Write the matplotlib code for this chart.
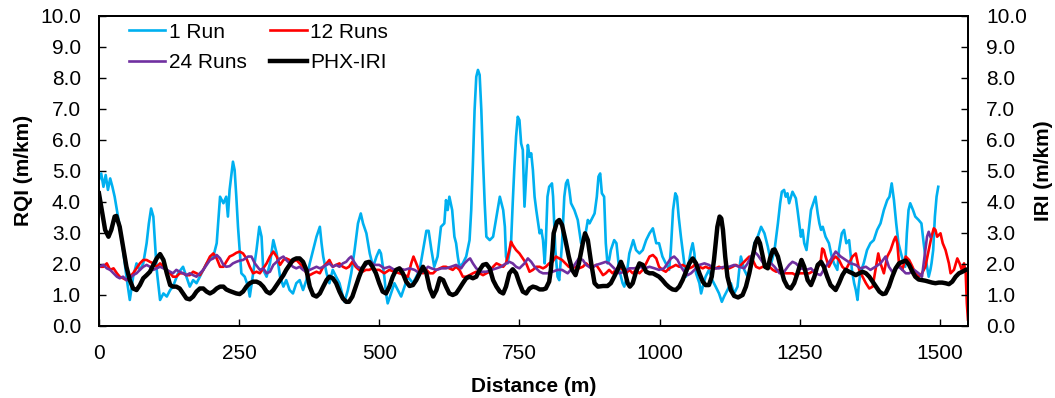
import matplotlib
matplotlib.use("Agg")
import matplotlib.pyplot as plt

plt.rcParams['font.family'] = ['Liberation Sans', 'DejaVu Sans']

# ---------------- data ----------------
run1_d = [0, 4, 8, 12, 16, 20, 24, 28, 32, 37, 43, 49, 55, 61, 67, 73, 79, 85, 89, 93,
          97, 100, 103, 109, 115, 121, 127, 132, 141, 150, 156, 162, 168, 174, 180, 186, 192, 198, 204, 210,
          216, 222, 227, 230, 233, 239, 242, 245, 248, 251, 254, 260, 266, 269, 275, 281, 286, 290, 293, 299,
          305, 311, 317, 323, 329, 334, 340, 346, 352, 358, 364, 370, 376, 382, 388, 394, 397, 400, 406, 411,
          417, 423, 429, 435, 438, 444, 450, 456, 462, 467, 471, 477, 483, 489, 495, 500, 503, 509, 512, 515,
          521, 527, 533, 539, 545, 551, 560, 566, 572, 578, 584, 588, 593, 598, 604, 610, 616, 619, 622, 625,
          630, 634, 637, 640, 643, 649, 655, 661, 664, 667, 670, 673, 676, 679, 682, 685, 688, 691, 697, 703,
          709, 715, 721, 724, 726, 729, 735, 738, 741, 744, 747, 750, 753, 756, 759, 762, 765, 768, 771, 774,
          777, 780, 786, 789, 792, 795, 797, 800, 803, 808, 810, 814, 818, 821, 826, 830, 833, 836, 839, 842,
          848, 854, 860, 866, 872, 875, 884, 888, 891, 894, 897, 901, 904, 907, 910, 913, 919, 923, 928, 934,
          937, 940, 946, 953, 958, 964, 970, 976, 982, 988, 994, 999, 1005, 1011, 1017, 1020, 1024, 1028, 1031, 1034,
          1038, 1041, 1044, 1047, 1052, 1056, 1059, 1062, 1065, 1071, 1074, 1077, 1082, 1088, 1094, 1100, 1106, 1111, 1115, 1121,
          1127, 1133, 1139, 1142, 1145, 1151, 1157, 1163, 1169, 1175, 1181, 1187, 1193, 1199, 1205, 1211, 1215, 1218, 1222, 1225,
          1228, 1231, 1237, 1243, 1246, 1249, 1252, 1255, 1258, 1262, 1266, 1270, 1274, 1278, 1282, 1285, 1288, 1291, 1296, 1302,
          1307, 1311, 1317, 1320, 1325, 1329, 1333, 1338, 1341, 1343, 1347, 1350, 1353, 1355, 1358, 1364, 1370, 1376, 1382, 1388,
          1394, 1400, 1406, 1410, 1414, 1418, 1422, 1426, 1432, 1438, 1441, 1444, 1447, 1452, 1456, 1462, 1467, 1471, 1474, 1477,
          1480, 1483, 1485, 1488, 1491, 1494, 1497]
run1_v = [4.70, 4.91, 4.48, 4.86, 4.38, 4.75, 4.48, 4.16, 3.73, 3.19, 2.44, 1.58, 0.83, 1.58, 2.01, 1.80, 2.01, 2.66, 3.30, 3.78,
          3.52, 2.66, 1.80, 0.83, 1.04, 0.94, 1.15, 1.26, 1.69, 1.90, 1.58, 1.26, 1.47, 1.37, 1.58, 1.80, 2.01, 2.12, 2.23, 2.66,
          4.16, 3.95, 4.16, 3.52, 4.38, 5.29, 5.02, 4.16, 3.19, 2.44, 1.69, 1.58, 1.26, 0.94, 1.69, 2.44, 3.19, 2.87, 1.80, 1.58,
          2.01, 2.76, 2.33, 1.58, 1.26, 1.47, 1.15, 1.04, 1.37, 1.47, 1.15, 1.47, 2.01, 2.44, 2.87, 3.19, 2.66, 2.23, 1.69, 1.37,
          1.80, 1.58, 1.37, 0.94, 0.77, 1.15, 1.69, 2.44, 3.30, 3.62, 3.30, 2.98, 2.33, 1.90, 2.23, 2.44, 2.33, 1.58, 1.04, 0.72,
          1.04, 1.37, 1.15, 0.94, 1.26, 1.58, 1.37, 1.58, 1.80, 2.44, 3.06, 3.06, 2.44, 1.90, 2.23, 3.19, 3.30, 4.05, 3.73, 4.16,
          3.73, 2.87, 2.66, 2.23, 1.90, 2.01, 2.23, 2.76, 3.73, 5.24, 6.96, 8.03, 8.25, 8.09, 6.96, 5.34, 3.95, 2.87, 2.76, 2.87,
          3.52, 4.16, 3.73, 3.19, 2.23, 2.01, 2.66, 3.95, 5.13, 6.10, 6.74, 6.63, 5.88, 5.67, 3.84, 4.81, 5.83, 5.45, 5.56, 5.02,
          4.16, 3.73, 2.98, 3.09, 2.76, 2.01, 2.66, 4.16, 4.48, 4.59, 4.16, 2.44, 1.58, 1.47, 2.66, 4.16, 4.59, 4.70, 4.38, 3.95,
          3.73, 3.41, 2.66, 2.76, 3.41, 3.30, 3.62, 4.16, 4.81, 4.91, 4.27, 4.16, 2.66, 2.01, 2.12, 2.44, 2.76, 2.66, 1.80, 1.37,
          1.26, 1.47, 2.33, 2.76, 2.44, 2.33, 2.44, 2.76, 2.98, 3.14, 2.66, 2.66, 2.23, 2.01, 1.80, 2.44, 3.73, 4.27, 4.16, 3.52,
          2.87, 2.44, 2.01, 1.58, 2.01, 2.44, 2.66, 2.33, 1.69, 1.37, 1.04, 1.26, 1.58, 1.80, 1.47, 1.26, 1.04, 0.77, 0.94, 1.15,
          1.37, 1.04, 1.26, 1.80, 2.23, 1.80, 1.58, 1.90, 2.66, 2.87, 3.19, 2.98, 2.55, 2.01, 2.44, 3.30, 3.95, 4.32, 4.38, 4.16,
          4.27, 3.95, 4.32, 4.11, 3.73, 3.30, 2.87, 3.09, 2.66, 2.44, 3.09, 3.73, 3.95, 4.16, 3.62, 3.30, 3.09, 3.19, 2.87, 2.66,
          2.23, 2.01, 1.80, 2.44, 2.98, 3.09, 2.66, 2.76, 2.23, 1.80, 1.37, 1.15, 0.83, 1.26, 1.69, 2.01, 2.44, 2.66, 2.76, 3.09,
          3.30, 3.73, 4.05, 4.16, 4.59, 4.05, 3.30, 2.66, 2.23, 1.90, 2.98, 3.73, 3.95, 3.73, 3.52, 3.41, 3.30, 2.66, 2.23, 1.90,
          1.58, 1.80, 2.01, 2.44, 3.52, 4.16, 4.48]

run12_d = [0, 8, 14, 20, 26, 32, 37, 43, 49, 55, 61, 67, 73, 79, 85, 91, 97, 103, 109, 115,
           121, 127, 132, 138, 144, 150, 156, 162, 168, 174, 180, 186, 192, 198, 204, 210, 216, 222, 227, 233,
           239, 245, 251, 257, 263, 269, 275, 281, 287, 293, 299, 305, 311, 317, 323, 329, 334, 340, 346, 352,
           358, 364, 370, 376, 382, 388, 394, 400, 406, 411, 417, 423, 429, 435, 441, 446, 452, 458, 464, 470,
           476, 482, 488, 494, 500, 509, 518, 527, 536, 545, 551, 557, 561, 566, 572, 578, 584, 590, 596, 602,
           608, 614, 619, 625, 631, 637, 643, 649, 655, 661, 667, 673, 679, 685, 691, 697, 703, 709, 715, 721,
           726, 732, 735, 738, 744, 750, 756, 762, 768, 774, 780, 786, 792, 797, 803, 809, 815, 821, 826, 832,
           838, 844, 850, 856, 863, 869, 875, 881, 887, 893, 899, 904, 910, 916, 922, 928, 934, 940, 946, 952,
           958, 964, 970, 976, 982, 988, 994, 999, 1005, 1011, 1017, 1023, 1029, 1035, 1041, 1047, 1053, 1059, 1065, 1071,
           1077, 1082, 1088, 1094, 1100, 1106, 1112, 1118, 1124, 1130, 1136, 1142, 1148, 1154, 1160, 1166, 1172, 1178, 1184, 1190,
           1196, 1202, 1208, 1214, 1219, 1225, 1231, 1237, 1243, 1249, 1255, 1267, 1278, 1287, 1290, 1293, 1296, 1302, 1308, 1314,
           1320, 1326, 1332, 1338, 1344, 1350, 1356, 1362, 1368, 1374, 1380, 1386, 1390, 1394, 1400, 1406, 1412, 1418, 1421, 1424,
           1427, 1433, 1439, 1445, 1451, 1456, 1462, 1468, 1474, 1480, 1485, 1489, 1492, 1495, 1501, 1505, 1510, 1516, 1519, 1525,
           1531, 1535, 1539, 1543, 1546, 1548, 1550]
run12_v = [1.90, 1.90, 2.01, 1.80, 1.85, 1.69, 1.58, 1.53, 1.47, 1.58, 1.69, 1.85, 2.01, 2.12, 2.12, 2.06, 2.01, 1.90, 2.01, 1.90,
           1.80, 1.69, 1.58, 1.58, 1.69, 1.69, 1.63, 1.63, 1.74, 1.69, 1.63, 1.80, 2.01, 2.23, 2.33, 2.17, 1.90, 1.90, 2.06, 2.23,
           2.28, 2.35, 2.39, 2.33, 2.17, 1.90, 1.69, 1.74, 1.69, 1.85, 2.01, 2.23, 2.39, 2.23, 1.96, 2.12, 2.17, 2.12, 2.06, 2.12,
           2.01, 1.90, 1.69, 1.63, 1.69, 1.74, 1.69, 1.90, 2.01, 2.12, 1.90, 1.96, 2.01, 1.90, 1.85, 1.90, 2.06, 1.90, 1.80, 1.74,
           1.80, 1.80, 1.85, 1.80, 1.80, 1.69, 1.80, 1.74, 1.69, 1.63, 1.58, 2.01, 2.23, 2.01, 1.74, 1.69, 1.80, 1.69, 1.69, 1.80,
           1.85, 1.90, 1.90, 1.85, 1.80, 1.90, 1.80, 1.58, 1.58, 1.63, 1.69, 1.74, 1.69, 1.63, 1.69, 1.74, 1.90, 2.01, 1.96, 1.90,
           2.01, 2.44, 2.71, 2.60, 2.44, 2.33, 2.17, 2.01, 1.74, 1.80, 1.90, 1.90, 1.85, 1.90, 2.01, 2.06, 2.23, 2.17, 2.12, 2.01,
           1.90, 1.85, 1.90, 1.85, 1.90, 2.01, 1.90, 1.90, 1.96, 1.80, 1.63, 1.69, 1.80, 1.69, 1.80, 1.90, 1.80, 1.69, 1.80, 1.69,
           1.80, 1.69, 1.80, 2.01, 2.23, 2.28, 2.17, 1.90, 1.80, 1.74, 1.85, 1.90, 1.96, 1.90, 1.96, 1.90, 1.85, 1.90, 2.01, 1.90,
           1.85, 1.90, 1.85, 1.90, 1.85, 1.90, 1.85, 1.90, 1.85, 1.90, 1.96, 1.90, 2.01, 2.12, 2.23, 2.12, 1.90, 1.85, 1.90, 1.96,
           1.90, 1.80, 1.74, 1.80, 1.74, 1.69, 1.69, 1.69, 1.63, 1.69, 1.69, 1.69, 1.80, 2.01, 2.49, 2.44, 2.23, 1.90, 2.12, 2.23,
           2.12, 1.90, 1.80, 2.01, 2.23, 2.33, 1.80, 1.58, 1.37, 1.20, 1.26, 1.90, 2.33, 2.01, 1.69, 2.23, 2.44, 2.76, 2.87, 2.66,
           2.01, 1.80, 2.23, 2.12, 1.90, 1.69, 1.58, 1.69, 1.90, 2.44, 2.87, 3.14, 3.09, 2.87, 2.98, 2.66, 2.44, 2.01, 1.69, 1.80,
           2.17, 2.01, 1.80, 2.01, 1.69, 0.72, 0.20]

run24_d = [0, 8, 14, 20, 26, 32, 37, 43, 49, 55, 61, 67, 73, 79, 85, 91, 97, 103, 109, 115,
           121, 127, 132, 138, 144, 150, 156, 162, 168, 174, 180, 186, 192, 198, 204, 210, 216, 222, 227, 233,
           239, 245, 251, 257, 266, 272, 278, 287, 293, 299, 305, 311, 317, 323, 329, 334, 340, 346, 352, 358,
           364, 370, 376, 382, 388, 394, 400, 406, 411, 417, 423, 429, 435, 441, 446, 450, 455, 461, 467, 473,
           479, 485, 491, 500, 509, 518, 527, 536, 545, 554, 563, 572, 581, 587, 593, 602, 611, 619, 628, 637,
           646, 652, 658, 662, 667, 673, 681, 691, 700, 709, 717, 726, 732, 738, 744, 750, 759, 765, 771, 777,
           786, 792, 800, 809, 818, 826, 836, 844, 850, 856, 863, 869, 878, 887, 896, 904, 910, 919, 928, 937,
           946, 955, 964, 973, 982, 991, 999, 1008, 1014, 1020, 1026, 1032, 1038, 1044, 1050, 1056, 1062, 1071, 1080, 1088,
           1097, 1106, 1115, 1124, 1133, 1142, 1151, 1157, 1163, 1169, 1175, 1181, 1187, 1193, 1199, 1205, 1214, 1222, 1231, 1237,
           1243, 1252, 1261, 1270, 1278, 1287, 1296, 1305, 1314, 1323, 1332, 1341, 1350, 1358, 1368, 1376, 1385, 1394, 1403, 1409,
           1415, 1421, 1427, 1433, 1439, 1445, 1454, 1462, 1468, 1474, 1477, 1480, 1483]
run24_v = [1.90, 1.96, 1.85, 1.80, 1.69, 1.58, 1.53, 1.58, 1.47, 1.53, 1.63, 1.69, 1.80, 1.90, 1.96, 1.90, 1.80, 1.85, 1.90, 1.85,
           1.80, 1.74, 1.69, 1.80, 1.74, 1.69, 1.63, 1.69, 1.63, 1.58, 1.69, 1.80, 1.96, 2.12, 2.17, 2.28, 2.17, 1.96, 1.90, 1.92,
           2.01, 2.06, 2.10, 2.12, 2.23, 2.23, 2.01, 1.80, 1.85, 1.69, 1.74, 1.96, 2.06, 2.17, 2.23, 2.12, 2.01, 1.90, 1.85, 1.90,
           1.80, 1.74, 1.80, 1.85, 1.90, 1.85, 1.90, 1.96, 2.01, 1.90, 1.96, 1.90, 2.01, 2.06, 2.17, 2.23, 2.06, 1.90, 1.85, 1.90,
           2.01, 2.06, 1.96, 1.96, 1.85, 1.90, 1.80, 1.85, 1.80, 1.85, 1.80, 1.69, 1.80, 1.90, 1.85, 1.80, 1.85, 1.85, 1.90, 1.96,
           1.85, 2.01, 2.12, 2.17, 2.01, 1.85, 1.74, 1.74, 1.80, 1.85, 1.90, 2.01, 2.06, 2.01, 1.90, 1.85, 2.01, 2.17, 2.06, 1.90,
           1.74, 1.69, 1.69, 1.74, 1.80, 1.80, 1.69, 1.85, 2.01, 2.17, 2.12, 1.96, 1.85, 1.96, 2.01, 2.06, 2.01, 1.85, 1.69, 1.74,
           1.85, 1.85, 1.90, 1.85, 1.90, 1.85, 1.80, 1.85, 2.01, 2.17, 2.23, 2.12, 1.90, 1.74, 1.63, 1.69, 1.80, 1.96, 2.01, 1.96,
           1.85, 1.85, 1.90, 1.90, 1.96, 1.90, 1.85, 2.01, 2.23, 2.39, 2.28, 2.12, 1.96, 1.90, 2.01, 1.90, 1.69, 1.74, 1.96, 2.06,
           2.01, 1.85, 1.80, 1.85, 1.69, 1.63, 1.90, 2.12, 2.39, 2.23, 2.12, 2.01, 1.96, 1.85, 1.90, 1.80, 1.90, 2.01, 2.23, 1.90,
           1.74, 1.85, 1.90, 1.80, 1.69, 1.69, 1.80, 1.69, 1.58, 2.44, 2.87, 3.03, 2.87]

phx_d = [0, 5, 11, 17, 22, 28, 31, 37, 43, 49, 55, 61, 67, 73, 79, 85, 91, 97, 103, 109,
         115, 121, 127, 132, 138, 144, 150, 156, 162, 168, 174, 180, 186, 192, 198, 204, 210, 216, 222, 227,
         233, 239, 245, 251, 257, 263, 269, 275, 281, 287, 293, 299, 305, 311, 317, 323, 329, 334, 340, 346,
         352, 358, 364, 370, 376, 382, 388, 394, 400, 406, 411, 417, 423, 429, 435, 441, 446, 452, 458, 464,
         470, 476, 482, 488, 494, 500, 506, 512, 518, 524, 530, 536, 542, 548, 554, 560, 566, 572, 578, 584,
         590, 596, 602, 608, 614, 619, 625, 631, 637, 643, 649, 655, 661, 667, 673, 679, 685, 691, 697, 703,
         709, 715, 721, 726, 732, 738, 744, 750, 756, 762, 768, 774, 780, 786, 792, 797, 803, 806, 809, 811,
         817, 821, 826, 832, 838, 844, 850, 856, 863, 867, 872, 878, 884, 890, 899, 907, 913, 919, 925, 931,
         937, 943, 947, 952, 958, 964, 970, 976, 982, 988, 994, 999, 1005, 1011, 1017, 1023, 1029, 1035, 1041, 1047,
         1053, 1059, 1065, 1071, 1077, 1082, 1088, 1093, 1097, 1100, 1103, 1107, 1110, 1113, 1117, 1121, 1127, 1133, 1140, 1148,
         1154, 1160, 1166, 1171, 1175, 1179, 1184, 1188, 1193, 1197, 1202, 1205, 1211, 1217, 1222, 1228, 1234, 1240, 1246, 1253,
         1258, 1264, 1270, 1276, 1282, 1288, 1293, 1299, 1305, 1314, 1320, 1326, 1332, 1338, 1344, 1350, 1356, 1362, 1368, 1374,
         1380, 1386, 1392, 1398, 1403, 1409, 1415, 1421, 1427, 1433, 1439, 1445, 1451, 1456, 1462, 1468, 1474, 1480, 1486, 1492,
         1498, 1504, 1510, 1516, 1522, 1528, 1534, 1540, 1546, 1550]
phx_v = [4.27, 3.73, 3.09, 2.87, 3.09, 3.52, 3.54, 3.19, 2.55, 1.90, 1.47, 1.20, 1.15, 1.31, 1.53, 1.63, 1.74, 1.96, 2.17, 2.31,
         2.12, 1.69, 1.31, 1.26, 1.26, 1.20, 1.04, 0.88, 0.85, 0.94, 1.10, 1.20, 1.20, 1.10, 1.04, 1.10, 1.20, 1.26, 1.26, 1.17,
         1.12, 1.08, 1.04, 1.02, 1.10, 1.26, 1.37, 1.42, 1.42, 1.37, 1.26, 1.10, 1.04, 1.15, 1.31, 1.47, 1.63, 1.80, 1.96, 2.12,
         2.17, 2.17, 2.06, 1.80, 1.26, 0.99, 0.94, 1.04, 1.26, 1.47, 1.58, 1.53, 1.37, 1.10, 0.88, 0.77, 0.77, 0.94, 1.26, 1.58,
         1.85, 2.03, 2.06, 1.90, 1.69, 1.37, 1.10, 1.04, 1.26, 1.58, 1.80, 1.85, 1.69, 1.42, 1.28, 1.31, 1.47, 1.69, 1.90, 1.69,
         1.20, 0.94, 1.15, 1.53, 1.47, 1.26, 1.04, 0.99, 1.04, 1.20, 1.37, 1.53, 1.58, 1.53, 1.58, 1.80, 1.96, 1.99, 1.85, 1.47,
         1.26, 1.10, 1.04, 1.26, 1.69, 1.82, 1.69, 1.37, 1.10, 1.04, 1.20, 1.26, 1.23, 1.17, 1.17, 1.20, 1.42, 1.80, 2.44, 2.98,
         3.35, 3.41, 3.25, 2.76, 2.23, 1.80, 1.63, 2.01, 2.66, 2.98, 2.76, 2.01, 1.37, 1.26, 1.28, 1.28, 1.37, 1.58, 1.80, 2.06,
         1.80, 1.37, 1.26, 1.37, 1.74, 2.01, 1.96, 1.74, 1.69, 1.69, 1.63, 1.58, 1.47, 1.34, 1.24, 1.17, 1.15, 1.26, 1.47, 1.74,
         2.01, 2.17, 2.01, 1.69, 1.42, 1.31, 1.31, 1.58, 2.12, 2.66, 3.19, 3.52, 3.46, 3.09, 2.23, 1.58, 1.15, 0.96, 0.91, 0.99,
         1.26, 1.69, 2.23, 2.66, 2.82, 2.66, 2.23, 1.90, 1.85, 2.17, 2.44, 2.46, 2.23, 1.80, 1.47, 1.26, 1.20, 1.37, 1.69, 2.12,
         1.90, 1.47, 1.31, 1.58, 1.96, 2.06, 1.90, 1.58, 1.31, 1.15, 1.37, 1.63, 1.80, 1.74, 1.69, 1.63, 1.69, 1.74, 1.69, 1.58,
         1.42, 1.26, 1.10, 1.02, 1.04, 1.26, 1.58, 1.85, 2.01, 2.06, 2.10, 1.96, 1.74, 1.58, 1.49, 1.47, 1.45, 1.42, 1.39, 1.37,
         1.39, 1.39, 1.37, 1.34, 1.42, 1.58, 1.69, 1.74, 1.80, 1.82]

x_ticks = [0, 250, 500, 750, 1000, 1250, 1500]
y_ticks = [0, 1, 2, 3, 4, 5, 6, 7, 8, 9, 10]
x_label = "Distance (m)"
y_label_left = "RQI (m/km)"
y_label_right = "IRI (m/km)"

# ---------------- figure ----------------
fig = plt.figure(figsize=(10.55, 3.98), dpi=100)
ax = fig.add_axes([0.0938, 0.1817, 0.8237, 0.7789])
ax2 = ax.twinx()

FS = 15
l1, = ax.plot(run1_d, run1_v, color='#00B0F0', lw=1.9, label='1 Run')
l12, = ax.plot(run12_d, run12_v, color='#FF0000', lw=1.9, label='12 Runs')
l24, = ax.plot(run24_d, run24_v, color='#7030A0', lw=1.9, label='24 Runs')
lp, = ax2.plot(phx_d, phx_v, color='black', lw=3.2, label='PHX-IRI')

for a in (ax, ax2):
    a.set_xlim(0, 1550)
    a.set_ylim(0, 10)
    a.set_yticks(y_ticks)
    a.set_yticklabels([f"{t:.1f}" for t in y_ticks])
    for s in a.spines.values():
        s.set_linewidth(1.4)
        s.set_color('black')

ax.set_xticks(x_ticks)
ax.set_xticklabels([str(t) for t in x_ticks])
ax.tick_params(axis='x', direction='in', length=5, width=1, labelsize=FS, pad=13.5)
ax.tick_params(axis='y', direction='in', length=5, width=1, labelsize=FS, pad=13)
ax2.tick_params(axis='y', direction='in', length=5, width=1, labelsize=FS, pad=13)

ax.set_xlabel(x_label, fontsize=FS, fontweight='bold', labelpad=10)
ax.set_ylabel(y_label_left, fontsize=FS, fontweight='bold', labelpad=5)
ax2.set_ylabel(y_label_right, fontsize=FS, fontweight='bold', labelpad=5, rotation=90)

leg = ax2.legend([l1, l24, l12, lp], ['1 Run', '24 Runs', '12 Runs', 'PHX-IRI'],
                 ncol=2, loc='upper left', bbox_to_anchor=(0.0345, 0.978),
                 frameon=False, fontsize=FS, handlelength=1.75, handletextpad=0.15,
                 columnspacing=1.15, labelspacing=0.55, borderpad=0, borderaxespad=0)

fig.savefig('out.png', dpi=100)
